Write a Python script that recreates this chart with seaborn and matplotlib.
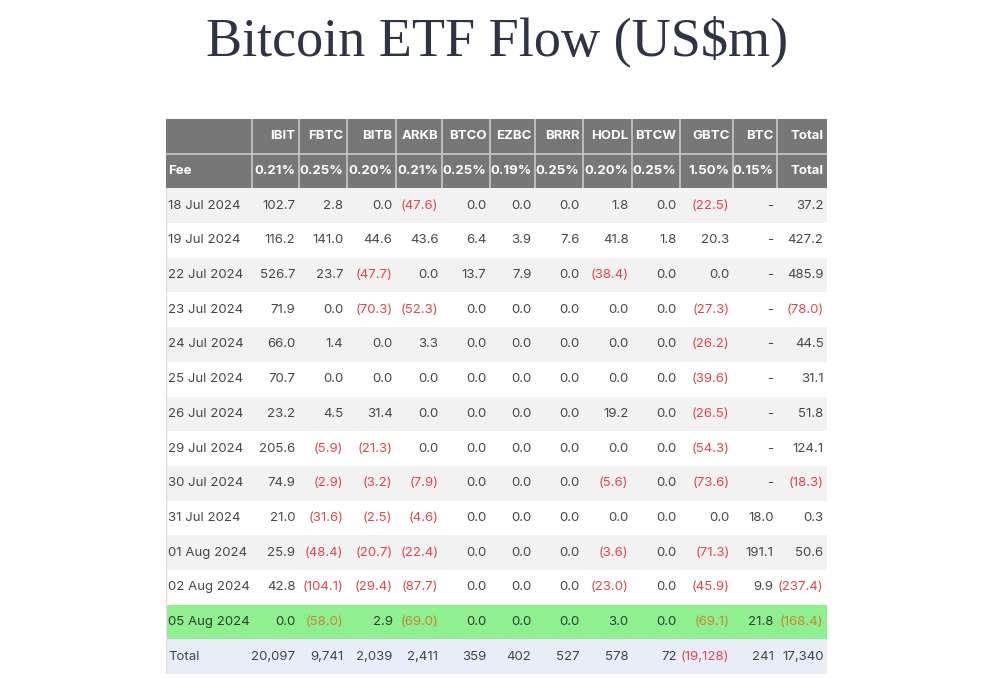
import numpy as np
import matplotlib
matplotlib.use("Agg")
import matplotlib.pyplot as plt
from matplotlib.colors import ListedColormap
import seaborn as sns

# ---------------- data ----------------
tickers = ["IBIT", "FBTC", "BITB", "ARKB", "BTCO", "EZBC", "BRRR", "HODL",
           "BTCW", "GBTC", "BTC", "Total"]
fees = ["0.21%", "0.25%", "0.20%", "0.21%", "0.25%", "0.19%", "0.25%",
        "0.20%", "0.25%", "1.50%", "0.15%", "Total"]
dates = ["18 Jul 2024", "19 Jul 2024", "22 Jul 2024", "23 Jul 2024",
         "24 Jul 2024", "25 Jul 2024", "26 Jul 2024", "29 Jul 2024",
         "30 Jul 2024", "31 Jul 2024", "01 Aug 2024", "02 Aug 2024",
         "05 Aug 2024"]
nan = np.nan
IBIT = [102.7, 116.2, 526.7, 71.9, 66.0, 70.7, 23.2, 205.6, 74.9, 21.0, 25.9, 42.8, 0.0]
FBTC = [2.8, 141.0, 23.7, 0.0, 1.4, 0.0, 4.5, -5.9, -2.9, -31.6, -48.4, -104.1, -58.0]
BITB = [0.0, 44.6, -47.7, -70.3, 0.0, 0.0, 31.4, -21.3, -3.2, -2.5, -20.7, -29.4, 2.9]
ARKB = [-47.6, 43.6, 0.0, -52.3, 3.3, 0.0, 0.0, 0.0, -7.9, -4.6, -22.4, -87.7, -69.0]
BTCO = [0.0, 6.4, 13.7, 0.0, 0.0, 0.0, 0.0, 0.0, 0.0, 0.0, 0.0, 0.0, 0.0]
EZBC = [0.0, 3.9, 7.9, 0.0, 0.0, 0.0, 0.0, 0.0, 0.0, 0.0, 0.0, 0.0, 0.0]
BRRR = [0.0, 7.6, 0.0, 0.0, 0.0, 0.0, 0.0, 0.0, 0.0, 0.0, 0.0, 0.0, 0.0]
HODL = [1.8, 41.8, -38.4, 0.0, 0.0, 0.0, 19.2, 0.0, -5.6, 0.0, -3.6, -23.0, 3.0]
BTCW = [0.0, 1.8, 0.0, 0.0, 0.0, 0.0, 0.0, 0.0, 0.0, 0.0, 0.0, 0.0, 0.0]
GBTC = [-22.5, 20.3, 0.0, -27.3, -26.2, -39.6, -26.5, -54.3, -73.6, 0.0, -71.3, -45.9, -69.1]
BTC = [nan, nan, nan, nan, nan, nan, nan, nan, nan, 18.0, 191.1, 9.9, 21.8]
TOTAL = [37.2, 427.2, 485.9, -78.0, 44.5, 31.1, 51.8, 124.1, -18.3, 0.3, 50.6, -237.4, -168.4]
col_totals = [20097, 9741, 2039, 2411, 359, 402, 527, 578, 72, -19128, 241, 17340]

series = [IBIT, FBTC, BITB, ARKB, BTCO, EZBC, BRRR, HODL, BTCW, GBTC, BTC, TOTAL]

# ---------------- layout ----------------
W, H = 1000, 678
tx0, tx1 = 166, 827
ty0, ty1 = 119, 674
col_px = [166, 252, 299, 347, 396, 442, 490, 535, 583, 632, 680, 733, 777, 827]

def fx(px):
    return (px - tx0) / (tx1 - tx0)

n_rows = 2 + len(dates) + 1
# background code per row: 0 header, 1 stripe grey, 2 white, 3 highlight green, 4 total
codes = [0, 0]
for i in range(len(dates)):
    if i == len(dates) - 1:
        codes.append(3)
    else:
        codes.append(1 if i % 2 == 0 else 2)
codes.append(4)
codes = np.array(codes, dtype=float).reshape(-1, 1)

cmap = ListedColormap(["#777777", "#f2f2f2", "#ffffff", "#8ff08f", "#e9edf7"])

fig = plt.figure(figsize=(W / 100, H / 100), dpi=100)
fig.patch.set_facecolor("white")
ax = fig.add_axes([tx0 / W, 1 - ty1 / H, (tx1 - tx0) / W, (ty1 - ty0) / H])
sns.heatmap(codes, cmap=cmap, vmin=-0.5, vmax=4.5, cbar=False, ax=ax,
            xticklabels=False, yticklabels=False, linewidths=0)
ax.set_xlim(0, 1)
ax.set_ylim(n_rows, 0)

# header separators
sep_c = "#c9c9c9"
for px in col_px[1:-1]:
    ax.plot([fx(px), fx(px)], [0, 2], color=sep_c, lw=1.2, solid_capstyle="butt")
ax.plot([0, 1], [1, 1], color=sep_c, lw=1.2)
ax.plot([0, 0], [2, n_rows], color="#dcdcdc", lw=1.0)

FONT = "Inter"
FS = 9.5
pad = 3.5
RED = "#e0464e"
ORANGE = "#c98630"
TXT = "#474747"

def fmt(v, total=False):
    if v is None or (isinstance(v, float) and np.isnan(v)):
        return "-"
    if total:
        s = f"{abs(v):,.0f}"
    else:
        s = f"{abs(v):.1f}"
    return f"({s})" if v < 0 else s

# header rows
for j, (t, f) in enumerate(zip(tickers, fees)):
    xr = fx(col_px[j + 2] - pad)
    ax.text(xr, 0.5, t, ha="right", va="center", color="white",
            fontsize=FS, fontweight="bold", family=FONT)
    ax.text(xr, 1.5, f, ha="right", va="center", color="white",
            fontsize=FS, fontweight="bold", family=FONT)
ax.text(fx(168), 1.5, "Fee", ha="left", va="center", color="white",
        fontsize=FS, fontweight="bold", family=FONT)

# data rows
for i, d in enumerate(dates):
    y = 2 + i + 0.5
    green = (i == len(dates) - 1)
    base = "#2f3d2f" if green else TXT
    neg = ORANGE if green else RED
    ax.text(fx(168), y, d, ha="left", va="center", color=base,
            fontsize=FS, family=FONT)
    for j, s in enumerate(series):
        v = s[i]
        col = neg if (not np.isnan(v) and v < 0) else base
        ax.text(fx(col_px[j + 2] - pad), y, fmt(v), ha="right", va="center",
                color=col, fontsize=FS, family=FONT)

# total row
y = n_rows - 0.5
ax.text(fx(168), y, "Total", ha="left", va="center", color="#3e4456",
        fontsize=FS, family=FONT)
for j, v in enumerate(col_totals):
    col = RED if v < 0 else "#3e4456"
    ax.text(fx(col_px[j + 2] - pad), y, fmt(v, total=True), ha="right",
            va="center", color=col, fontsize=FS, family=FONT)

fig.text(0.497, 1 - 41 / H, "Bitcoin ETF Flow (US\\$m)", ha="center",
         va="center", fontsize=39, family="Liberation Serif", color="#2e3346")

fig.savefig("out.png", dpi=100, facecolor="white")
